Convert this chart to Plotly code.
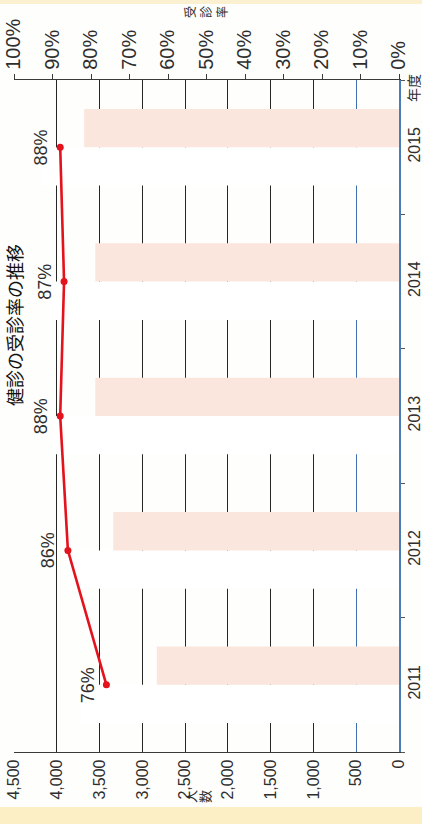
import plotly.graph_objects as go

# ---------------- data ----------------
years = ["2011", "2012", "2013", "2014", "2015"]
examinees = [2830, 3340, 3550, 3550, 3680]      # pink bars (受診者数)
eligible = [3720, 3880, 4030, 4080, 4170]       # white bars (対象者数)
rate = [76, 86, 88, 87, 88]                     # 受診率 (%)

count_ticks = [0, 500, 1000, 1500, 2000, 2500, 3000, 3500, 4000, 4500]
count_labels = ["0", "500", "1,000", "1,500", "2,000", "2,500", "3,000", "3,500", "4,000", "4,500"]
rate_ticks = [0, 10, 20, 30, 40, 50, 60, 70, 80, 90, 100]
rate_labels = ["0%", "10%", "20%", "30%", "40%", "50%", "60%", "70%", "80%", "90%", "100%"]

title_text = "健診の受診率の推移"

# ---------------- layout geometry ----------------
W, H = 422, 824
L, R, T, B = 14, 23, 80, 72
PW, PH = W - L - R, H - T - B

def px(xpix):
    return (xpix - L) / PW

def py(ypix):
    return 1 - (ypix - T) / PH

FONT = "Liberation Sans, Arial, sans-serif"
CJK = "Noto Sans CJK JP, sans-serif"
TXT = "#2e2e2e"

fig = go.Figure()

fig.add_trace(go.Bar(y=years, x=eligible, orientation="h",
                     marker=dict(color="#ffffff", line=dict(width=0)),
                     xaxis="x", yaxis="y", showlegend=False, hoverinfo="skip"))
fig.add_trace(go.Bar(y=years, x=examinees, orientation="h",
                     marker=dict(color="#fbe6de", line=dict(width=0)),
                     xaxis="x", yaxis="y", showlegend=False))
fig.add_trace(go.Scatter(x=[], y=[], xaxis="x3", yaxis="y", showlegend=False))
fig.add_trace(go.Scatter(y=years, x=rate, xaxis="x2", yaxis="y",
                         mode="lines+markers",
                         line=dict(color="#e3121c", width=2.6),
                         marker=dict(color="#e3121c", size=7),
                         showlegend=False))

annotations = []
for i, r in enumerate(rate):
    annotations.append(dict(x=r, y=i, xref="x2", yref="y", text=f"{r}%",
                            textangle=-90, showarrow=False, xshift=-19,
                            xanchor="center", yanchor="middle",
                            font=dict(family=FONT, size=18, color=TXT)))

# axis titles / other texts
for ch, xp in zip("受診率", [190, 206, 222]):
    annotations.append(dict(x=px(xp), y=py(12), xref="paper", yref="paper", text=ch,
                            textangle=-90, showarrow=False, xanchor="center", yanchor="middle",
                            font=dict(family=CJK, size=12, color=TXT)))
for ch, xp in zip("人数", [190, 204]):
    annotations.append(dict(x=px(xp), y=py(797), xref="paper", yref="paper", text=ch,
                            textangle=-90, showarrow=False, xanchor="center", yanchor="middle",
                            font=dict(family=CJK, size=13, color=TXT)))
annotations.append(dict(x=px(413), y=py(88), xref="paper", yref="paper", text="年度",
                        textangle=-90, showarrow=False, xanchor="center", yanchor="middle",
                        font=dict(family=CJK, size=14, color=TXT)))
annotations.append(dict(x=px(0), y=py(325), xref="paper", yref="paper", text=title_text,
                        textangle=-90, showarrow=False, xanchor="left", yanchor="middle",
                        borderpad=0,
                        font=dict(family=CJK, size=18, color="#111111")))

fig.update_layout(
    template="none",
    width=W, height=H,
    margin=dict(l=L, r=R, t=T, b=B, pad=0, autoexpand=False),
    paper_bgcolor="#fefefc", plot_bgcolor="#fefefc",
    barmode="group", bargap=0.43, bargroupgap=0,
    showlegend=False,
    annotations=annotations,
    xaxis=dict(range=[4500, 0], tickmode="array", tickvals=count_ticks, ticktext=count_labels,
               tickangle=-90, showgrid=True, gridcolor="#262626", gridwidth=1.3,
               showline=True, linecolor="#3a3a3a", linewidth=1.3, zeroline=False,
               ticks="", automargin=False,
               tickfont=dict(family=FONT, size=16, color=TXT), fixedrange=True),
    xaxis2=dict(overlaying="x", side="top", anchor="y", range=[100, 0], tickmode="array",
                tickvals=rate_ticks, ticktext=rate_labels, tickangle=-90,
                showgrid=False, showline=True, linecolor="#3a3a3a", linewidth=1.3,
                ticks="outside", ticklen=5, tickcolor="#3a3a3a", zeroline=False,
                automargin=False, tickfont=dict(family=FONT, size=20, color=TXT)),
    xaxis3=dict(overlaying="x", anchor="y", range=[4500, 0], tickmode="array", tickvals=[500],
                showgrid=True, gridcolor="#3f6fb0", gridwidth=1.3, showticklabels=False,
                showline=False, zeroline=False, ticks="", automargin=False),
    yaxis=dict(type="category", side="right", range=[-0.5, 4.5], tickangle=-90,
               ticks="outside", ticklen=4, tickcolor="#555555", tickson="boundaries",
               showline=True, linecolor="#4a7db8", linewidth=1.5, showgrid=False,
               zeroline=False, automargin=False,
               tickfont=dict(family=FONT, size=16, color=TXT)),
    shapes=[
        dict(type="rect", xref="paper", yref="paper", x0=px(0), x1=px(W), y0=py(807), y1=py(H),
             fillcolor="#fcefc6", line=dict(width=0), layer="below"),
        dict(type="rect", xref="paper", yref="paper", x0=px(0), x1=px(W), y0=py(0), y1=py(4),
             fillcolor="#fbf0cf", line=dict(width=0), layer="below"),
    ],
)

fig.write_html("out.html",
               config={"displayModeBar": False},
               post_script="document.body.style.margin='0';document.body.style.overflow='hidden';")
